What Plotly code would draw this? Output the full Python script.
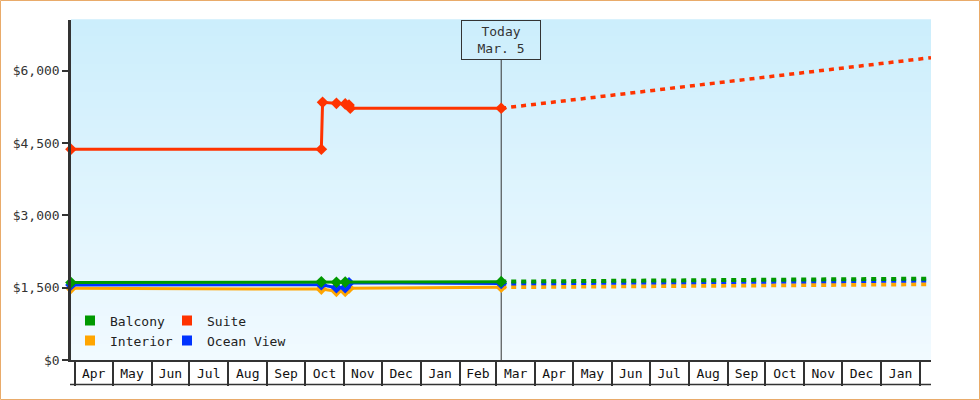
import plotly.graph_objects as go

# ---------------- data ----------------
hist_dates = ['2023-03-29', '2023-10-14', '2023-10-15', '2023-10-26',
              '2023-11-02', '2023-11-05', '2023-11-06', '2024-03-05']
suite_hist = [4370, 4370, 5344, 5323, 5309, 5288, 5220, 5220]
balcony_hist = [1605, 1620, None, 1612, 1615, None, None, 1625]
ocean_hist = [1555, 1560, None, 1500, 1500, 1600, None, 1586]
interior_hist = [1487, 1470, None, 1425, 1425, 1490, None, 1510]

fc_dates = ['2024-03-05', '2025-02-09 16:00']
suite_fc = [5220, 6269]
balcony_fc = [1625, 1687]
ocean_fc = [1586, 1648]
interior_fc = [1510, 1572]

series_names = ['Balcony', 'Suite', 'Interior', 'Ocean View']
series_colors = {'Balcony': '#009900', 'Suite': '#ff3300',
                 'Interior': '#ffa500', 'Ocean View': '#0033ff'}

x_range = ['2023-03-29', '2025-02-09 16:00']
y_ticks = [0, 1500, 3000, 4500, 6000]
today_date = '2024-03-05'
today_text = 'Today<br>Mar. 5'

FONT = 'DejaVu Sans Mono'

# ---------------- layout geometry ----------------
W, H = 980, 400
ML, MR, MT, MB = 71, 49, 20, 40
PW, PH = W - ML - MR, H - MT - MB

def px_x(p):
    return (p - ML) / PW

def px_y(p):
    return (H - MB - p) / PH

fig = go.Figure()

# draw order: interior, ocean view, balcony, suite
draw = [
    ('Interior', interior_hist, interior_fc),
    ('Ocean View', ocean_hist, ocean_fc),
    ('Balcony', balcony_hist, balcony_fc),
    ('Suite', suite_hist, suite_fc),
]
for name, hist, fc in draw:
    c = series_colors[name]
    fig.add_trace(go.Scatter(
        x=fc_dates, y=fc, mode='lines', showlegend=False, hoverinfo='skip',
        line=dict(color=c, width=4 if name != 'Suite' else 3.5, dash='5px,5px'),
        cliponaxis=False))
    fig.add_trace(go.Scatter(
        x=hist_dates, y=hist, mode='lines+markers', connectgaps=True,
        showlegend=False, name=name,
        line=dict(color=c, width=3),
        marker=dict(symbol='diamond', size=9, color=c, line=dict(width=0)),
        cliponaxis=False))

# legend entries (square swatches), one legend per entry for exact placement
legend_slots = [('Balcony', 'legend', 90, 320.5),
                ('Suite', 'legend2', 187, 320.5),
                ('Interior', 'legend3', 90, 340.5),
                ('Ocean View', 'legend4', 187, 340.5)]
legend_layout = {}
for name, lg, sx, sy in legend_slots:
    fig.add_trace(go.Scatter(
        x=[None], y=[None], mode='markers', name=name, legend=lg,
        marker=dict(symbol='square', size=10, color=series_colors[name],
                    line=dict(width=0))))
    legend_layout[lg] = dict(
        orientation='h', x=px_x(sx - 20), y=px_y(sy), xanchor='left',
        yanchor='middle', bgcolor='rgba(0,0,0,0)', borderwidth=0,
        itemsizing='trace',
        font=dict(family=FONT, size=13, color='#222222'))

# background gradient
shapes = []
N = 85
top = (204, 238, 252)
bot = (241, 250, 255)
for i in range(N):
    t = i / (N - 1)
    col = tuple(round(bot[k] + (top[k] - bot[k]) * t) for k in range(3))
    shapes.append(dict(type='rect', xref='paper', yref='paper',
                       x0=0, x1=1, y0=i / N, y1=(i + 1) / N + 0.002,
                       fillcolor='rgb(%d,%d,%d)' % col, line=dict(width=0),
                       layer='below'))
# today line
shapes.append(dict(type='line', xref='x', yref='paper', x0=today_date,
                   x1=today_date, y0=0, y1=px_y(60),
                   line=dict(color='#333333', width=1), layer='below'))
# bottom line of month row
shapes.append(dict(type='line', xref='paper', yref='paper', x0=px_x(70),
                   x1=1, y0=px_y(384.5), y1=px_y(384.5),
                   line=dict(color='#333333', width=1.5)))
# outer border
shapes.append(dict(type='rect', xref='paper', yref='paper',
                   x0=px_x(0.5), x1=px_x(979.5), y0=px_y(399.5), y1=px_y(0.5),
                   line=dict(color='#e9ab6a', width=1),
                   fillcolor='rgba(0,0,0,0)'))

fig.update_layout(
    width=W, height=H,
    margin=dict(l=ML, r=MR, t=MT, b=MB, pad=0),
    paper_bgcolor='white',
    plot_bgcolor='rgb(225,245,255)',
    font=dict(family=FONT, size=13, color='#333333'),
    shapes=shapes,
    xaxis=dict(
        type='date', range=x_range, showgrid=False, zeroline=False,
        showline=True, linecolor='#333333', linewidth=1.5,
        ticks='outside', ticklen=24, tickwidth=1.5, tickcolor='#333333',
        dtick='M1', tick0='2023-04-01', tickformat='%b',
        ticklabelmode='period', ticklabelstandoff=-23,
        tickfont=dict(family=FONT, size=13, color='#111111'),
    ),
    yaxis=dict(
        range=[0, 7050], tickvals=y_ticks, tickformat='$,d',
        showgrid=False, zeroline=False, showline=True, linecolor='#333333',
        linewidth=2.5, ticks='outside', ticklen=6, tickwidth=2,
        tickcolor='#333333',
        tickfont=dict(family=FONT, size=13, color='#333333'),
    ),
    annotations=[dict(
        x=today_date, xref='x', y=1, yref='paper', yanchor='top',
        xanchor='center', text=today_text, showarrow=False,
        width=78, height=38, borderpad=0, borderwidth=1,
        bordercolor='#333333', bgcolor='rgba(0,0,0,0)',
        font=dict(family=FONT, size=13, color='#333333'))],
    hovermode=False,
    **legend_layout,
)

fig.write_html('out.html',
               config={'displayModeBar': False},
               post_script="document.body.style.margin='0';"
                           "document.body.style.overflow='hidden';")
